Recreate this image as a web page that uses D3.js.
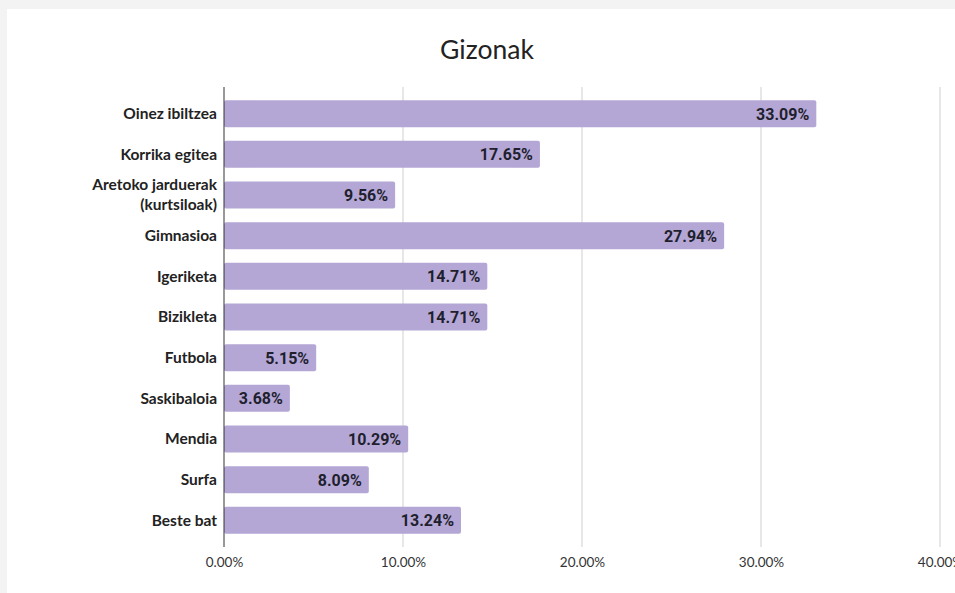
<!DOCTYPE html>
<html>
<head>
<meta charset="utf-8">
<script src="https://cdn.jsdelivr.net/npm/d3@7/dist/d3.min.js"></script>
<style>
  html, body { margin: 0; padding: 0; background: #f3f3f3; }
  svg { display: block; }
</style>
</head>
<body>
<svg id="chart" width="955" height="593"></svg>
<script>
const categories = [
  "Oinez ibiltzea", "Korrika egitea", "Aretoko jarduerak|(kurtsiloak)", "Gimnasioa",
  "Igeriketa", "Bizikleta", "Futbola", "Saskibaloia", "Mendia", "Surfa", "Beste bat"
];
const values = [33.09, 17.65, 9.56, 27.94, 14.71, 14.71, 5.15, 3.68, 10.29, 8.09, 13.24];
const tickValues = [0, 10, 20, 30, 40];
const title = "Gizonak";

const svg = d3.select("#chart");
const W = 955, H = 593;

// white card
svg.append("rect").attr("x", 7).attr("y", 9).attr("width", W - 7).attr("height", H - 9).attr("fill", "#ffffff");

const x = d3.scaleLinear().domain([0, 40]).range([224, 940]);
const y = d3.scaleBand().domain(categories).range([92, 542]).paddingInner(0.335).paddingOuter(0.2);

const plotTop = 87, plotBottom = 547;

svg.append("text")
  .attr("x", 487).attr("y", 59)
  .attr("text-anchor", "middle")
  .attr("font-family", "Lato, 'Open Sans', sans-serif")
  .attr("font-size", 26.5)
  .attr("fill", "#222")
  .text(title);

// vertical gridlines
svg.append("g").selectAll("line").data(tickValues.slice(1)).join("line")
  .attr("x1", d => x(d)).attr("x2", d => x(d))
  .attr("y1", plotTop).attr("y2", plotBottom)
  .attr("stroke", "#cfcfcf").attr("stroke-width", 1);

// x axis tick labels
const xAxis = d3.axisBottom(x).tickValues(tickValues).tickSize(0).tickFormat(d => d.toFixed(2) + "%");
const gx = svg.append("g").attr("transform", "translate(0,554)").call(xAxis);
gx.select(".domain").remove();
gx.selectAll("text")
  .attr("font-family", "Lato, 'Open Sans', sans-serif")
  .attr("font-size", 13.5)
  .attr("fill", "#333");

// bars
svg.append("g").selectAll("rect").data(values).join("rect")
  .attr("x", x(0))
  .attr("y", (d, i) => y(categories[i]))
  .attr("width", d => x(d) - x(0))
  .attr("height", y.bandwidth())
  .attr("rx", 2)
  .attr("fill", "#b4a7d6");

// value labels
svg.append("g").selectAll("text").data(values).join("text")
  .attr("x", d => x(d) - 7)
  .attr("y", (d, i) => y(categories[i]) + y.bandwidth() / 2)
  .attr("dy", "0.37em")
  .attr("text-anchor", "end")
  .attr("font-family", "Roboto, sans-serif")
  .attr("font-weight", "bold")
  .attr("font-size", 16)
  .attr("fill", "#1f1f2e")
  .text(d => d.toFixed(2) + "%");

// category axis
const gy = svg.append("g").attr("transform", `translate(${x(0)},0)`);
gy.append("line").attr("x1", 0).attr("x2", 0).attr("y1", plotTop).attr("y2", plotBottom).attr("stroke", "#333").attr("stroke-width", 1);
categories.forEach(c => {
  const parts = c.split("|");
  const cy = y(c) + y.bandwidth() / 2;
  const lh = 20;
  const t = gy.append("text")
    .attr("text-anchor", "end")
    .attr("font-family", "Lato, sans-serif")
    .attr("font-weight", "bold")
    .attr("font-size", 15.5)
    .attr("fill", "#222");
  parts.forEach((p, k) => {
    t.append("tspan")
      .attr("x", -7)
      .attr("y", cy + (k - (parts.length - 1) / 2) * lh)
      .attr("dy", "0.35em")
      .text(p);
  });
});
</script>
</body>
</html>
